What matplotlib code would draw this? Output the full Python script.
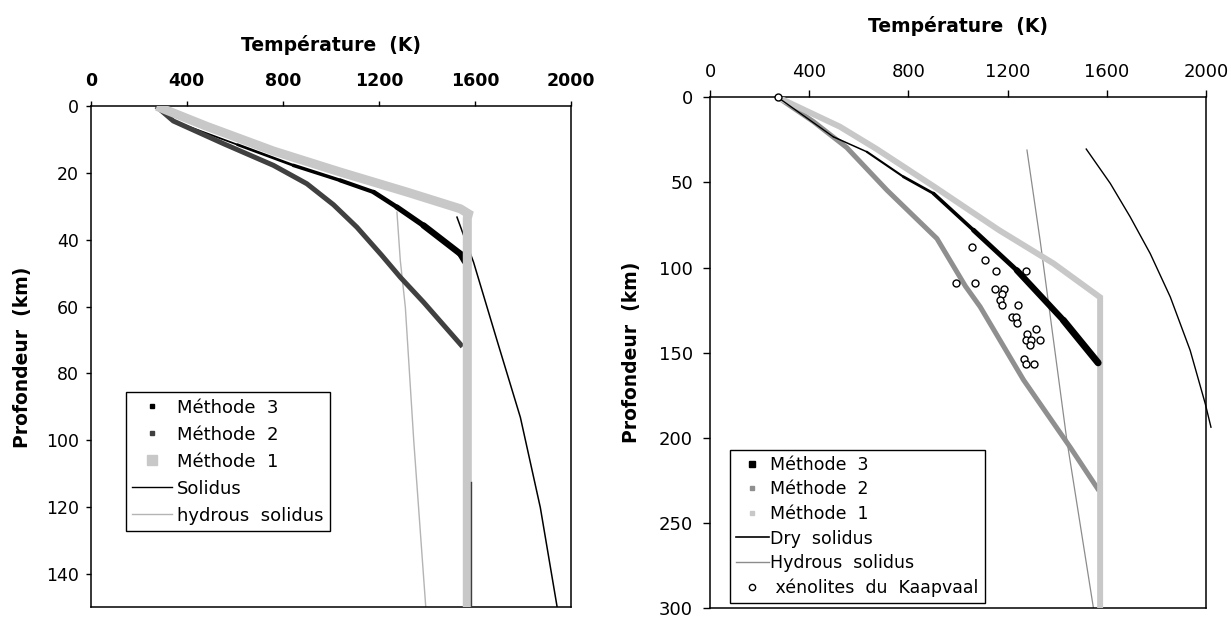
"""Deux profils géothermiques (température vs profondeur), méthodes 1-3 et solidus."""
import matplotlib
matplotlib.use("Agg")
import matplotlib.pyplot as plt
from matplotlib.lines import Line2D
import numpy as np

plt.rcParams["font.family"] = ["DejaVu Sans"]

# ---------------- left panel data (T in K, depth in km) ----------------
L_M1_T = [275, 483, 761, 1039, 1317, 1539, 1573, 1568, 1568]
L_M1_D = [0, 6, 13.4, 19.7, 25.7, 30.7, 32.2, 33.5, 150]

L_M3_T = [273, 344, 611, 844, 1039, 1178, 1275, 1386, 1539, 1558]
L_M3_D = [0, 4.4, 11.5, 17.7, 22.2, 25.7, 30.2, 35.7, 44.2, 46.5]

L_M2_T = [273, 344, 553, 761, 900, 1011, 1108, 1210, 1289, 1386, 1548]
L_M2_D = [0, 4.4, 11.2, 17.7, 23.2, 29.5, 36.2, 44.5, 51.2, 58.7, 72]
L_M2_TAIL_T = [1583, 1583]
L_M2_TAIL_D = [112.5, 150]

L_SOL_T = [1525, 1553, 1594, 1692, 1789, 1872, 1942]
L_SOL_D = [33.2, 38.7, 46.7, 70.2, 93.2, 120.2, 150]

L_HYD_T = [1275, 1289, 1310, 1345, 1395]
L_HYD_D = [31.7, 46.2, 60.2, 100.2, 150]

# ---------------- right panel data ----------------
R_M1_T = [273, 524, 672, 905, 1165, 1385, 1573, 1573]
R_M1_D = [0, 17.3, 30.4, 52.6, 78, 97.6, 117.5, 300]

R_M3_T = [273, 497, 632, 780, 901, 1062, 1237, 1425, 1565]
R_M3_D = [0, 23.2, 32, 46.7, 56.5, 78, 101.6, 131, 156]

R_M2_T = [273, 417, 551, 713, 915, 1030, 1089, 1264, 1452, 1568]
R_M2_D = [0, 14.3, 29.5, 54.5, 83, 111, 123, 166, 205.5, 231]

R_DRY_T = [1517, 1614, 1694, 1775, 1856, 1936, 1997, 2020]
R_DRY_D = [30.4, 50.6, 70.2, 91.8, 117.3, 148.6, 180, 193.8]

R_HYD_T = [1278, 1331, 1439, 1546]
R_HYD_D = [31, 84, 201.6, 300]

XENO_T = [273, 1058, 1109, 1154, 1273, 991, 1069, 1150, 1186, 1179, 1170, 1177,
          1240, 1219, 1233, 1237, 1314, 1277, 1274, 1293, 1331, 1289, 1268,
          1273, 1308]
XENO_D = [0, 87.9, 95.3, 102.2, 102.2, 108.8, 108.8, 112.4, 112.4, 115.7, 119.2,
          122.2, 122.2, 129, 129, 132.4, 135.9, 139.2, 142.4, 142.4, 142.4,
          145.7, 153.5, 156.9, 156.9]

X_TICKS = [0, 400, 800, 1200, 1600, 2000]
L_Y_TICKS = [0, 20, 40, 60, 80, 100, 120, 140]
R_Y_TICKS = [0, 50, 100, 150, 200, 250, 300]

LIGHT = "#c8c8c8"
DARK = "#404040"
MID = "#8f8f8f"


def tapered(ax, T, D, w_top, w_bot, d_top, d_bot, color, z):
    # dense-marker look: the line thickens with depth
    T = np.asarray(T, float)
    D = np.asarray(D, float)
    for i in range(len(T) - 1):
        dm = 0.5 * (D[i] + D[i + 1])
        w = np.interp(dm, [d_top, d_bot], [w_top, w_bot])
        ax.plot(T[i:i + 2], D[i:i + 2], color=color, lw=w,
                solid_capstyle="round", zorder=z)


def style_axes(ax, ymax, yticks, bold_x, fs_x, fs_y, tl, xpad, ypad):
    ax.set_xlim(0, 2000)
    ax.set_ylim(ymax, 0)
    ax.xaxis.tick_top()
    ax.set_xticks(X_TICKS)
    ax.set_yticks(yticks)
    ax.tick_params(axis="x", direction="out", length=tl, width=1, pad=xpad,
                   labelsize=fs_x)
    ax.tick_params(axis="y", direction="out", length=tl, width=1, pad=ypad,
                   labelsize=fs_y)
    if bold_x:
        for lab in ax.get_xticklabels():
            lab.set_fontweight("bold")
    for sp in ax.spines.values():
        sp.set_linewidth(1.1)
        sp.set_color("black")


fig = plt.figure(figsize=(12.31, 6.17), dpi=100)
axL = fig.add_axes([0.0737, 0.0162, 0.3902, 0.8115])
axR = fig.add_axes([0.5768, 0.0146, 0.4029, 0.8277])

# ---- left panel ----
ax = axL
ax.plot(L_HYD_T, L_HYD_D, color="#b4b4b4", lw=1.0, zorder=2)
ax.plot(L_SOL_T, L_SOL_D, color="black", lw=1.1, zorder=2)
tapered(ax, L_M3_T, L_M3_D, 1.0, 4.6, 5, 40, "black", 3)
ax.plot(L_M2_T, L_M2_D, color=DARK, lw=3.6, solid_capstyle="butt", zorder=4)
ax.plot(L_M1_T, L_M1_D, color=LIGHT, lw=6.5, solid_capstyle="butt",
        solid_joinstyle="miter", zorder=5)
ax.plot(L_M2_TAIL_T, L_M2_TAIL_D, color=DARK, lw=1.0, zorder=6)
style_axes(ax, 150, L_Y_TICKS, True, 12.5, 12.5, 3.6, 8, 5)

hL = [Line2D([], [], ls="none", marker="s", ms=3.5, color="black"),
      Line2D([], [], ls="none", marker="s", ms=3.5, color=DARK),
      Line2D([], [], ls="none", marker="s", ms=6.5, color=LIGHT),
      Line2D([], [], color="black", lw=1.0),
      Line2D([], [], color="#b4b4b4", lw=1.0)]
leg = ax.legend(hL, ["Méthode  3", "Méthode  2", "Méthode  1", "Solidus",
                     "hydrous  solidus"],
                loc="upper left", bbox_to_anchor=(0.0725, 0.429),
                borderaxespad=0, fontsize=13, frameon=True, fancybox=False,
                edgecolor="black", framealpha=1, handlelength=2.2,
                handletextpad=0.3, borderpad=0.35, labelspacing=0.5)
leg.get_frame().set_linewidth(1.0)

# ---- right panel ----
ax = axR
ax.plot(R_HYD_T, R_HYD_D, color="#8c8c8c", lw=0.9, zorder=2)
ax.plot(R_DRY_T, R_DRY_D, color="black", lw=1.0, zorder=2, clip_on=False)
ax.plot(R_M2_T, R_M2_D, color=MID, lw=3.6, solid_capstyle="butt", zorder=3)
ax.plot(R_M1_T, R_M1_D, color=LIGHT, lw=4.3, solid_capstyle="butt",
        solid_joinstyle="miter", zorder=3)
tapered(ax, R_M3_T, R_M3_D, 1.0, 5.0, 25, 130, "black", 4)
ax.plot(XENO_T, XENO_D, ls="none", marker="o", ms=5, mfc="white",
        mec="black", mew=1.0, zorder=6, clip_on=False)
style_axes(ax, 300, R_Y_TICKS, False, 13, 13, 4.7, 7, 7.5)

hR = [Line2D([], [], ls="none", marker="s", ms=4, color="black"),
      Line2D([], [], ls="none", marker="s", ms=3.5, color=MID),
      Line2D([], [], ls="none", marker="s", ms=3.5, color=LIGHT),
      Line2D([], [], color="black", lw=1.2),
      Line2D([], [], color="#8c8c8c", lw=1.0),
      Line2D([], [], ls="none", marker="o", ms=4.5, mfc="white",
             mec="black", mew=1.0)]
leg = ax.legend(hR, ["Méthode  3", "Méthode  2", "Méthode  1", "Dry  solidus",
                     "Hydrous  solidus", " xénolites  du  Kaapvaal"],
                loc="upper left", bbox_to_anchor=(0.0395, 0.31),
                borderaxespad=0, fontsize=12.5, frameon=True, fancybox=False,
                edgecolor="black", framealpha=1, handlelength=1.9,
                handletextpad=0.1, borderpad=0.35, labelspacing=0.38)
leg.get_frame().set_linewidth(1.0)

# ---- titles and axis labels ----
fig.text(331 / 1231, 1 - 45 / 617, "Température  (K)", ha="center",
         va="center", fontsize=13.5, fontweight="bold")
fig.text(958 / 1231, 1 - 26.5 / 617, "Température  (K)", ha="center",
         va="center", fontsize=13.5, fontweight="bold")
fig.text(23 / 1231, 1 - 357 / 617, "Profondeur  (km)", ha="center",
         va="center", rotation=90, fontsize=13.5, fontweight="bold")
fig.text(631 / 1231, 1 - 352 / 617, "Profondeur  (km)", ha="center",
         va="center", rotation=90, fontsize=13.5, fontweight="bold")

fig.savefig("out.png", dpi=100)
